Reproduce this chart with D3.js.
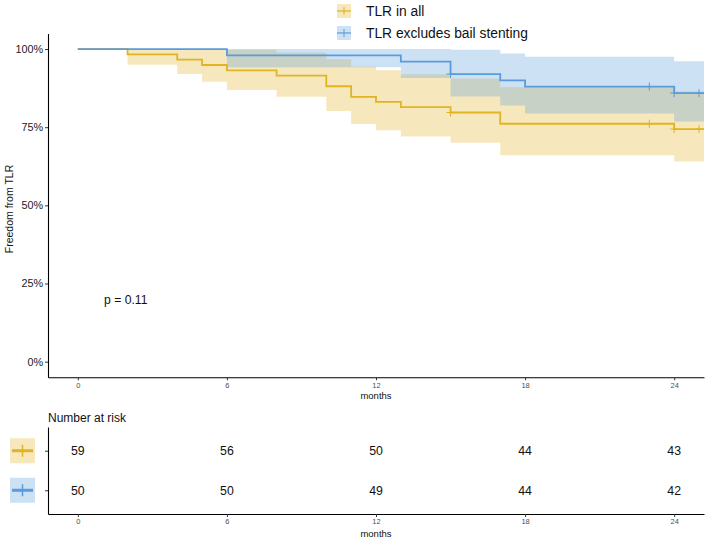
<!DOCTYPE html>
<html><head><meta charset="utf-8">
<script src="https://cdn.jsdelivr.net/npm/d3@7"></script>
<style>body{margin:0;background:#fff}svg{display:block;font-family:"Liberation Sans",Arial,sans-serif}</style>
</head><body><svg id="c" width="709" height="541"></svg>
<script>
// ---- data ----
const groups = ["TLR in all", "TLR excludes bail stenting"];
const colors = ["#E0B422", "#5A9BDB"];
// step-after survival curves (months)
const allTime  = [0, 2, 4, 5, 6, 8, 10, 11, 12, 13, 15, 17, 24, 26];
const allSurv  = [1, 0.983, 0.966, 0.949, 0.932, 0.915, 0.881, 0.847, 0.831, 0.814, 0.797, 0.761, 0.744, 0.744];
const allUpper = [1, 1, 1, 1, 0.998, 0.989, 0.967, 0.944, 0.932, 0.919, 0.906, 0.878, 0.865, 0.865];
const allLower = [1, 0.950, 0.920, 0.895, 0.869, 0.847, 0.802, 0.760, 0.740, 0.720, 0.700, 0.660, 0.640, 0.640];
const exTime  = [0, 6, 13, 15, 17, 18, 24, 26];
const exSurv  = [1, 0.98, 0.96, 0.92, 0.90, 0.88, 0.859, 0.859];
const exUpper = [1, 1, 1, 0.998, 0.986, 0.975, 0.961, 0.961];
const exLower = [1, 0.942, 0.907, 0.848, 0.819, 0.794, 0.768, 0.768];
// censor marks
const allCensTime = [15, 23, 24, 25];
const allCensSurv = [0.797, 0.761, 0.744, 0.744];
const exCensTime  = [15, 23, 24, 25];
const exCensSurv  = [0.92, 0.88, 0.859, 0.859];
// number at risk
const riskTimes = [0, 6, 12, 18, 24];
const riskAll   = [59, 56, 50, 44, 43];
const riskEx    = [50, 50, 49, 44, 42];
const yTicks = [0, 0.25, 0.5, 0.75, 1];
const pText = "p = 0.11";

// ---- layout ----
const svg = d3.select("#c");
const L = 48, R = 704, T = 33.4, B = 377.3;
const x = d3.scaleLinear().domain([-1.2, 25.2]).range([L, R]);
const y = d3.scaleLinear().domain([-0.05, 1.05]).range([B, T]);

svg.append("defs").append("clipPath").attr("id", "clip")
  .append("rect").attr("x", L).attr("y", T).attr("width", R - L).attr("height", B - T);

const series = [
  {t: allTime, s: allSurv, u: allUpper, l: allLower, ct: allCensTime, cs: allCensSurv, c: colors[0]},
  {t: exTime, s: exSurv, u: exUpper, l: exLower, ct: exCensTime, cs: exCensSurv, c: colors[1]}
];

const plot = svg.append("g").attr("clip-path", "url(#clip)");
const area = d3.area().curve(d3.curveStepAfter)
  .x(d => x(d.t)).y0(d => y(d.l)).y1(d => y(d.u));
const line = d3.line().curve(d3.curveStepAfter).x(d => x(d.t)).y(d => y(d.s));

series.forEach(sr => {
  const pts = sr.t.map((t, i) => ({t, s: sr.s[i], u: sr.u[i], l: sr.l[i]}));
  plot.append("path").datum(pts).attr("d", area).attr("fill", sr.c).attr("fill-opacity", 0.3);
});
series.forEach(sr => {
  const pts = sr.t.map((t, i) => ({t, s: sr.s[i]}));
  plot.append("path").datum(pts).attr("d", line).attr("fill", "none")
    .attr("stroke", sr.c).attr("stroke-width", 1.8);
  const cens = sr.ct.map((t, i) => ({t, s: sr.cs[i]}));
  const g = plot.append("g").attr("stroke", sr.c).attr("stroke-width", 1);
  g.selectAll("line.v").data(cens).join("line")
    .attr("x1", d => x(d.t)).attr("x2", d => x(d.t))
    .attr("y1", d => y(d.s) - 4).attr("y2", d => y(d.s) + 4);
  g.selectAll("line.h").data(cens).join("line")
    .attr("x1", d => x(d.t) - 4).attr("x2", d => x(d.t) + 4)
    .attr("y1", d => y(d.s)).attr("y2", d => y(d.s));
});

// axes (main)
const yAx = svg.append("g").attr("transform", `translate(${L},0)`)
  .call(d3.axisLeft(y).tickValues(yTicks).tickFormat(d3.format(".0%")).tickSize(3).tickSizeOuter(0).tickPadding(2));
const xAx = svg.append("g").attr("transform", `translate(0,${B})`)
  .call(d3.axisBottom(x).tickValues(riskTimes).tickFormat(d3.format("d")).tickSize(3).tickSizeOuter(0).tickPadding(2));
[yAx, xAx].forEach(a => {
  a.select(".domain").attr("stroke", "#000").attr("stroke-width", 1.1);
  a.selectAll(".tick line").attr("stroke", "#333");
});
yAx.selectAll("text").attr("font-size", 10.8).attr("fill", "#222").attr("font-family", null);
xAx.selectAll("text").attr("font-size", 7.5).attr("fill", "#4D4D4D").attr("font-family", null);

svg.append("text").attr("x", x(12)).attr("y", 399).attr("text-anchor", "middle")
  .attr("font-size", 9.5).attr("fill", "#111").text("months");
svg.append("text").attr("transform", "translate(13,209) rotate(-90)").attr("text-anchor", "middle")
  .attr("font-size", 10.5).attr("fill", "#111").text("Freedom from TLR");
svg.append("text").attr("x", 104).attr("y", 304).attr("font-size", 12.2).attr("fill", "#111").text(pText);

// legend (top)
const leg = svg.append("g");
groups.forEach((gname, i) => {
  const cy = 11 + i * 22;
  leg.append("rect").attr("x", 337).attr("y", cy - 7).attr("width", 14).attr("height", 14)
    .attr("fill", colors[i]).attr("fill-opacity", 0.3);
  leg.append("line").attr("x1", 337).attr("x2", 351).attr("y1", cy).attr("y2", cy)
    .attr("stroke", colors[i]).attr("stroke-width", 1.2);
  leg.append("line").attr("x1", 344).attr("x2", 344).attr("y1", cy - 4).attr("y2", cy + 4)
    .attr("stroke", colors[i]).attr("stroke-width", 1);
  leg.append("text").attr("x", 366).attr("y", cy + 5).attr("font-size", 13.8).attr("fill", "#111").text(gname);
});

// ---- risk table ----
const RT = 427, RB = 514;
const yr = d3.scalePoint().domain(groups).range([RT, RB]).padding(0.6);
svg.append("text").attr("x", L).attr("y", 422).attr("font-size", 12).attr("fill", "#111").text("Number at risk");
const rows = [riskAll, riskEx];
rows.forEach((vals, gi) => {
  svg.append("g").selectAll("text").data(vals).join("text")
    .attr("x", (d, i) => x(riskTimes[i])).attr("y", yr(groups[gi]) + 4.5)
    .attr("text-anchor", "middle").attr("font-size", 12.3).attr("fill", "#111").text(d => d);
});
const yrAx = svg.append("g").attr("transform", `translate(${L},0)`)
  .call(d3.axisLeft(yr).tickFormat("").tickSize(3).tickSizeOuter(0));
const xrAx = svg.append("g").attr("transform", `translate(0,${RB})`)
  .call(d3.axisBottom(x).tickValues(riskTimes).tickFormat(d3.format("d")).tickSize(3).tickSizeOuter(0).tickPadding(2));
[yrAx, xrAx].forEach(a => {
  a.select(".domain").attr("stroke", "#000").attr("stroke-width", 1.1);
  a.selectAll(".tick line").attr("stroke", "#333");
});
xrAx.selectAll("text").attr("font-size", 7.5).attr("fill", "#4D4D4D").attr("font-family", null);
svg.append("text").attr("x", x(12)).attr("y", 537).attr("text-anchor", "middle")
  .attr("font-size", 9.5).attr("fill", "#111").text("months");
// risk legend keys
groups.forEach((gname, i) => {
  const cy = yr(gname);
  svg.append("rect").attr("x", 10).attr("y", cy - 12.5).attr("width", 25).attr("height", 25)
    .attr("fill", colors[i]).attr("fill-opacity", 0.3);
  svg.append("line").attr("x1", 12).attr("x2", 33).attr("y1", cy).attr("y2", cy)
    .attr("stroke", colors[i]).attr("stroke-width", 3);
  svg.append("line").attr("x1", 22.5).attr("x2", 22.5).attr("y1", cy - 6).attr("y2", cy + 6)
    .attr("stroke", colors[i]).attr("stroke-width", 1.5);
});
</script></body></html>
